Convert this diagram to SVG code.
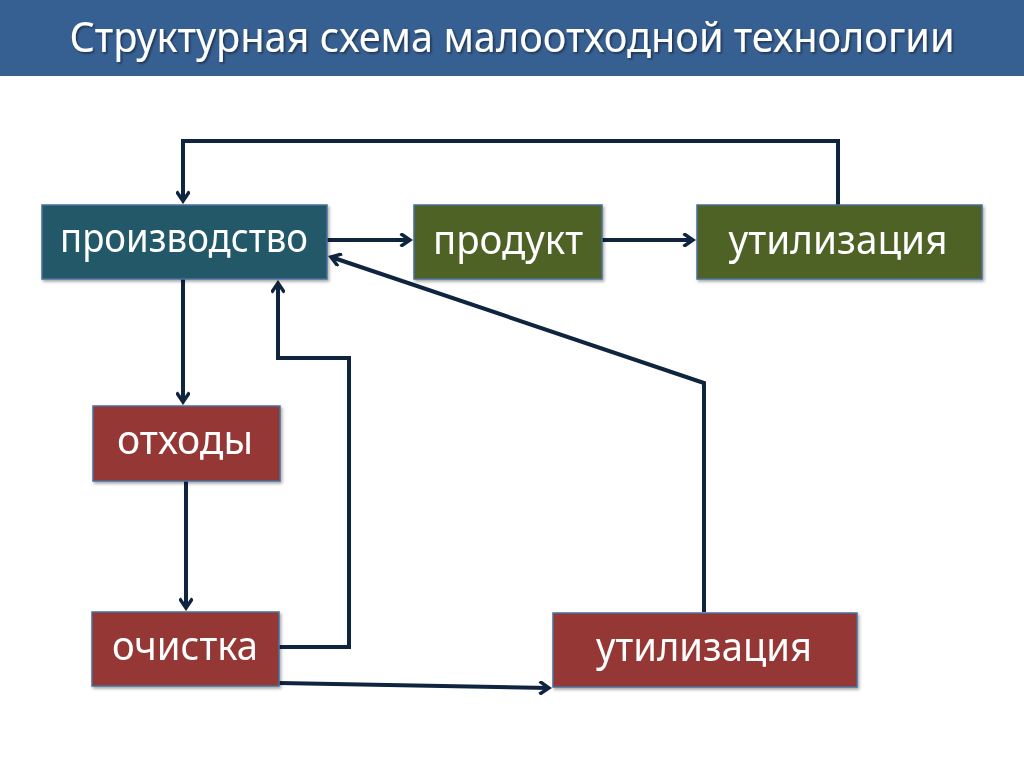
<svg xmlns="http://www.w3.org/2000/svg" width="1024" height="767" viewBox="0 0 1024 767">
<defs>
<style>
.box{stroke:#4a6f9a;stroke-width:1.5}
.teal{fill:#215967}
.green{fill:#4f6228}
.red{fill:#953735}
.lbl{font-family:"Noto Sans","Open Sans","DejaVu Sans",sans-serif;font-size:40px;fill:#fff;text-anchor:middle}
.ttl{font-family:"Noto Sans","Open Sans","DejaVu Sans",sans-serif;font-size:41px;fill:#fff;text-anchor:middle}
.ln{fill:none;stroke:#0f243e;stroke-width:4;stroke-linejoin:miter}
</style>
<marker id="ah" markerWidth="14" markerHeight="14" viewBox="0 0 14 14" refX="11" refY="7" orient="auto" markerUnits="userSpaceOnUse">
<path d="M1.5,0.5 L11,7 L1.5,13.5" fill="none" stroke="#0f243e" stroke-width="3.5"/>
</marker>
<filter id="sh" x="-10%" y="-10%" width="120%" height="130%">
<feDropShadow dx="1.5" dy="2" stdDeviation="1.5" flood-color="#000" flood-opacity="0.35"/>
</filter>
<filter id="tsh" x="-5%" y="-20%" width="110%" height="140%">
<feDropShadow dx="1.5" dy="1.5" stdDeviation="1" flood-color="#000" flood-opacity="0.5"/>
</filter>
</defs>
<rect width="1024" height="767" fill="#fff"/>
<rect x="0" y="0" width="1024" height="76" fill="#376092"/>
<text class="ttl" x="512" y="52" textLength="885" lengthAdjust="spacingAndGlyphs" filter="url(#tsh)">Структурная схема малоотходной технологии</text>

<g id="connectors">
<path class="ln" d="M838,205 V141 H183 V201" marker-end="url(#ah)"/>
<path class="ln" d="M327,240 H410" marker-end="url(#ah)"/>
<path class="ln" d="M602,240 H693" marker-end="url(#ah)"/>
<path class="ln" d="M183,279 V402" marker-end="url(#ah)"/>
<path class="ln" d="M186,481 V608" marker-end="url(#ah)"/>
<path class="ln" d="M279,647 H349 V358 H278 V283" marker-end="url(#ah)"/>
<path class="ln" d="M279,683 L549,688" marker-end="url(#ah)"/>
<path class="ln" d="M704,612 V383 L331,257" marker-end="url(#ah)"/>
</g>

<g id="node-proizvodstvo" filter="url(#sh)">
<rect class="box teal" x="42" y="205" width="285" height="74"/>
<text class="lbl" x="184" y="252" textLength="248" lengthAdjust="spacingAndGlyphs">производство</text>
</g>
<g id="node-produkt" filter="url(#sh)">
<rect class="box green" x="414" y="205" width="188" height="74"/>
<text class="lbl" x="508" y="254" textLength="150" lengthAdjust="spacingAndGlyphs">продукт</text>
</g>
<g id="node-utilizatsiya-top" filter="url(#sh)">
<rect class="box green" x="697" y="205" width="285" height="74"/>
<text class="lbl" x="838" y="254" textLength="219" lengthAdjust="spacingAndGlyphs">утилизация</text>
</g>
<g id="node-otkhody" filter="url(#sh)">
<rect class="box red" x="93" y="406" width="187" height="75"/>
<text class="lbl" x="185" y="454" textLength="136" lengthAdjust="spacingAndGlyphs">отходы</text>
</g>
<g id="node-ochistka" filter="url(#sh)">
<rect class="box red" x="92" y="612" width="187" height="74"/>
<text class="lbl" x="185" y="660" textLength="146" lengthAdjust="spacingAndGlyphs">очистка</text>
</g>
<g id="node-utilizatsiya-bottom" filter="url(#sh)">
<rect class="box red" x="553" y="613" width="304" height="74"/>
<text class="lbl" x="704" y="661" textLength="216" lengthAdjust="spacingAndGlyphs">утилизация</text>
</g>
</svg>
